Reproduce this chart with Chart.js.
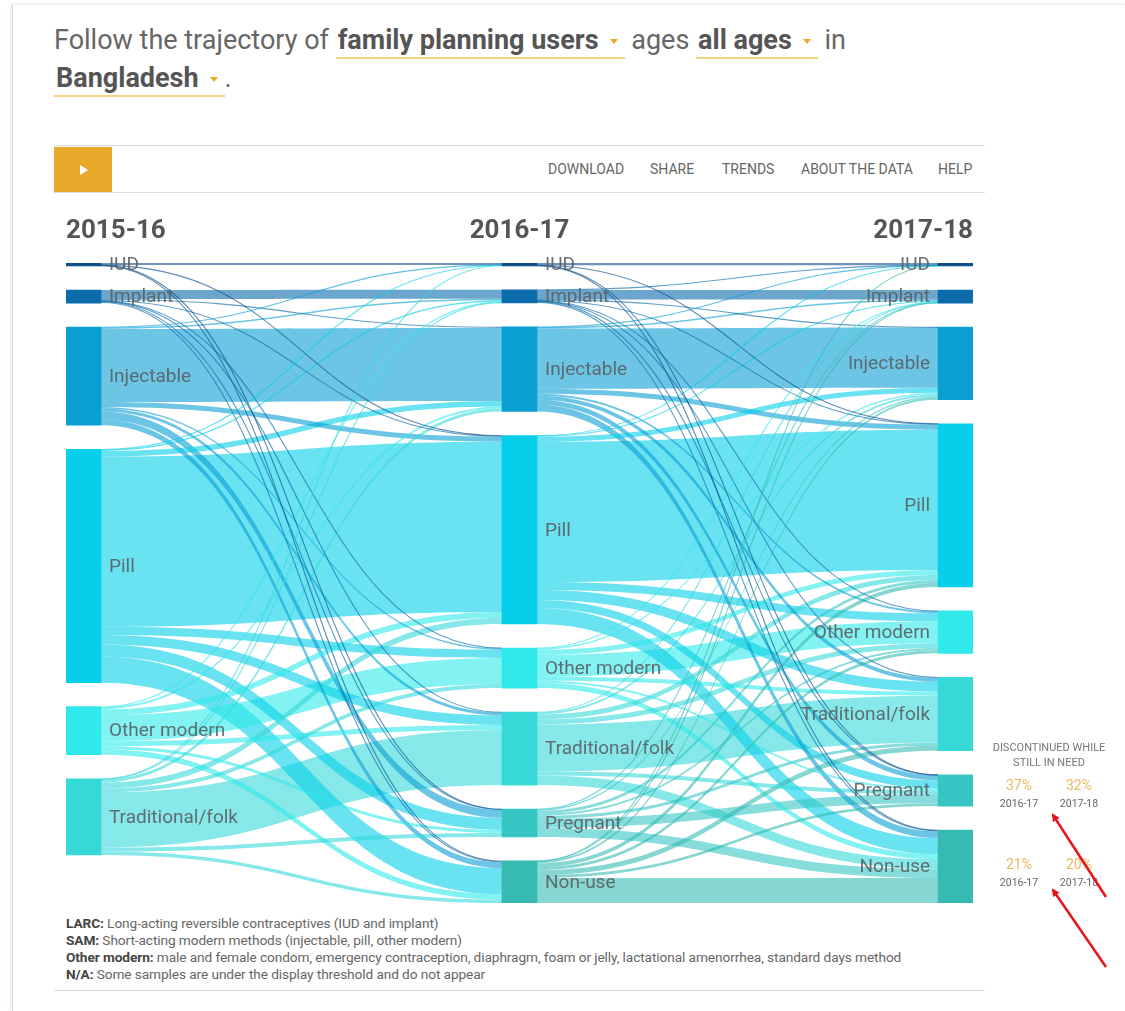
<!DOCTYPE html>
<html>
<head>
<meta charset="utf-8">
<title>Family planning trajectory - Bangladesh</title>
<script src="https://cdn.jsdelivr.net/npm/chart.js@4.4.1/dist/chart.umd.min.js"></script>
<style>
  body { margin: 0; width: 1125px; height: 1011px; background: #fff; font-family: Roboto, "Noto Sans", sans-serif; position: relative; overflow: hidden; }
  .frame { position: absolute; left: 12px; top: 4px; right: 0; bottom: 0; border-left: 1px solid #d8d8d8; border-top: 1px solid #eee; box-shadow: -2px 0 4px rgba(0,0,0,0.08); }
  .title { position: absolute; left: 54px; top: 21px; width: 820px; font-size: 27px; line-height: 38px; color: #666; }
  .sel { font-weight: bold; color: #555; border-bottom: 2px solid #f4d27c; padding: 0 7px 1px 2px; }
  .caret { display: inline-block; width: 0; height: 0; border-left: 4px solid transparent; border-right: 4px solid transparent; border-top: 5px solid #f0a72c; vertical-align: middle; margin-left: 11px; }
  .toolbar { position: absolute; left: 54px; top: 145px; width: 931px; height: 46px; border-top: 1px solid #ddd; border-bottom: 1px solid #ddd; }
  .play { position: absolute; left: 0; top: 1px; width: 58px; height: 45px; background: #e9aa2b; }
  .play:after { content: ""; position: absolute; left: 26px; top: 18px; border-top: 5px solid transparent; border-bottom: 5px solid transparent; border-left: 8px solid #fff; }
  .menu { position: absolute; top: 15px; font-size: 14px; color: #666; white-space: nowrap; }
  .chartbox { position: absolute; left: 48px; top: 195px; width: 943px; height: 715px; }
  .notes { position: absolute; left: 66px; top: 915px; font-size: 13.7px; line-height: 17px; color: #666; white-space: nowrap; letter-spacing: -0.1px; }
  .notes b { color: #444; }
  .rule { position: absolute; left: 54px; top: 990px; width: 931px; border-top: 1px solid #ddd; }
  .disc { position: absolute; left: 985px; top: 740px; width: 128px; text-align: center; font-size: 11px; line-height: 15px; color: #777; }
  .pct { position: absolute; width: 60px; text-align: center; font-size: 14px; color: #ecb75c; }
  .yr { position: absolute; width: 60px; text-align: center; font-size: 10.5px; color: #666; }
  svg.arrows { position: absolute; left: 0; top: 0; pointer-events: none; }
</style>
</head>
<body>
<div class="frame"></div>

<div class="title">Follow the trajectory of <span class="sel">family planning users<span class="caret"></span></span> ages <span class="sel">all ages<span class="caret"></span></span> in<br><span class="sel">Bangladesh<span class="caret"></span></span>.</div>

<div class="toolbar">
  <div class="play"></div>
  <span class="menu" style="left:494px">DOWNLOAD</span>
  <span class="menu" style="left:596px">SHARE</span>
  <span class="menu" style="left:668px">TRENDS</span>
  <span class="menu" style="left:747px">ABOUT THE DATA</span>
  <span class="menu" style="left:884px">HELP</span>
</div>

<div class="chartbox"><canvas id="sankey"></canvas></div>

<div class="notes">
  <b>LARC:</b> Long-acting reversible contraceptives (IUD and implant)<br>
  <b>SAM:</b> Short-acting modern methods (injectable, pill, other modern)<br>
  <b>Other modern:</b> male and female condom, emergency contraception, diaphragm, foam or jelly, lactational amenorrhea, standard days method<br>
  <b>N/A:</b> Some samples are under the display threshold and do not appear
</div>
<div class="rule"></div>

<div class="disc">DISCONTINUED WHILE<br>STILL IN NEED</div>
<div id="discBox"></div>

<svg class="arrows" width="1125" height="1011">
  <defs>
    <marker id="head" markerWidth="8" markerHeight="8" refX="6" refY="4" orient="auto" markerUnits="userSpaceOnUse">
      <path d="M0,0 L8,4 L0,8 z" fill="#e8141c"/>
    </marker>
  </defs>
  <line x1="1106" y1="897" x2="1053" y2="815" stroke="#e8141c" stroke-width="2.5" marker-end="url(#head)"/>
  <line x1="1106" y1="967" x2="1053" y2="890" stroke="#e8141c" stroke-width="2.5" marker-end="url(#head)"/>
</svg>

<script>
const years = ['2015-16', '2016-17', '2017-18'];
const categories = ['IUD', 'Implant', 'Injectable', 'Pill', 'Other modern', 'Traditional/folk', 'Pregnant', 'Non-use'];

// users moving from 2015-16 (rows) to 2016-17 (columns), same order as categories
const flowsFirst = [
  [2,   0,   0,   0.3, 0,   0,   0.2, 0.5],
  [0,   9,   1,   0.8, 0.3, 0.4, 0.5, 1],
  [0.3, 1.5, 73,  5,   1.5, 3,   8,   5.7],
  [0.3, 1.5, 5.5, 170, 8.2, 9.5, 12,  26],
  [0,   0.5, 2,   6,   26,  5,   3,   5.5],
  [0.2, 0.5, 3,   6,   4,   55,  4,   3.3],
  [0,   0,   0,   0,   0,   0,   0,   0],
  [0,   0,   0,   0,   0,   0,   0,   0]
];

// 2016-17 (rows) to 2017-18 (columns)
const flowsSecond = [
  [2.2, 0,   0,   0.2, 0,   0,   0.1, 0.3],
  [0.3, 9.5, 0.5, 0.7, 0.3, 0.3, 0.4, 1],
  [0.2, 1.5, 60,  5,   2,   4,   5,   6.8],
  [0.2, 1,   5,   140, 8,   10,  8,   15.9],
  [0,   0.3, 1.5, 5,   22,  4,   2,   5.2],
  [0,   0.3, 2,   5,   5,   47,  4,   9.6],
  [0,   0.2, 1.5, 3,   2,   3,   9,   9],
  [0.1, 0.2, 2,   4,   3,   5,   2.7, 25]
];

// discontinued while still in need
const discYears = ['2016-17', '2017-18'];
const discFirst = [37, 32];
const discSecond = [21, 20];

const nodeColors = ['#0e4f8b', '#0b6bab', '#0a9fd3', '#05cfea', '#2fe9ea', '#36d9d8', '#35c6c3', '#36bab2'];
const nodeWidth = 35;
const nodeGap = 24;

function rgba(hex, a) {
  const n = parseInt(hex.slice(1), 16);
  return 'rgba(' + (n >> 16) + ',' + ((n >> 8) & 255) + ',' + (n & 255) + ',' + a + ')';
}

const transitions = [flowsFirst, flowsSecond];
const nCol = years.length;

// node sizes = max of what comes in and what goes out
const sizes = [];
for (let c = 0; c < nCol; c++) {
  sizes.push(categories.map((_, k) => {
    const out = c < nCol - 1 ? transitions[c][k].reduce((a, b) => a + b, 0) : 0;
    const inn = c > 0 ? transitions[c - 1].reduce((a, row) => a + row[k], 0) : 0;
    return Math.max(out, inn);
  }));
}
const tops = sizes.map(col => {
  let y = 0;
  return col.map(s => {
    if (s <= 0) return null;
    const t = y;
    y += s + nodeGap;
    return t;
  });
});
let extent = 0;
tops.forEach((col, c) => col.forEach((t, k) => { if (t !== null) extent = Math.max(extent, t + sizes[c][k]); }));

const nodes = [];
tops.forEach((col, c) => col.forEach((t, k) => {
  if (t !== null) nodes.push({ col: c, cat: k, top: t, size: sizes[c][k] });
}));

const sankeyFlows = {
  id: 'sankeyFlows',
  beforeDatasetsDraw(chart) {
    const { ctx, scales: { x, y } } = chart;
    const half = nodeWidth / 2;
    const shapes = [];
    for (let c = 0; c < nCol - 1; c++) {
      const outOff = tops[c].slice();
      const inOff = tops[c + 1].slice();
      const x0 = x.getPixelForValue(c) + half;
      const x1 = x.getPixelForValue(c + 1) - half;
      for (let k = 0; k < categories.length; k++) {
        for (let j = 0; j < categories.length; j++) {
          const f = transitions[c][k][j];
          if (!f) continue;
          shapes.push({
            f, k, x0, x1,
            s0: y.getPixelForValue(outOff[k]), s1: y.getPixelForValue(outOff[k] + f),
            t0: y.getPixelForValue(inOff[j]), t1: y.getPixelForValue(inOff[j] + f)
          });
          outOff[k] += f;
          inOff[j] += f;
        }
      }
    }
    shapes.sort((a, b) => b.f - a.f);
    ctx.save();
    shapes.forEach(s => {
      const xm = (s.x0 + s.x1) / 2;
      if (s.s1 - s.s0 < 1.4) {
        const sm = (s.s0 + s.s1) / 2, tm = (s.t0 + s.t1) / 2;
        ctx.beginPath();
        ctx.moveTo(s.x0, sm);
        ctx.bezierCurveTo(xm, sm, xm, tm, s.x1, tm);
        ctx.lineWidth = 1.1;
        ctx.strokeStyle = rgba(nodeColors[s.k], 0.65);
        ctx.stroke();
      } else {
        ctx.beginPath();
        ctx.moveTo(s.x0, s.s0);
        ctx.bezierCurveTo(xm, s.s0, xm, s.t0, s.x1, s.t0);
        ctx.lineTo(s.x1, s.t1);
        ctx.bezierCurveTo(xm, s.t1, xm, s.s1, s.x0, s.s1);
        ctx.closePath();
        ctx.fillStyle = rgba(nodeColors[s.k], 0.6);
        ctx.fill();
      }
    });
    ctx.restore();
  }
};

const nodeLabels = {
  id: 'nodeLabels',
  afterDatasetsDraw(chart) {
    const { ctx, scales: { x, y } } = chart;
    ctx.save();
    ctx.font = '19px Roboto';
    ctx.fillStyle = 'rgba(90,95,100,0.9)';
    ctx.textBaseline = 'middle';
    nodes.forEach(n => {
      const cy = y.getPixelForValue(n.top + n.size / 2);
      if (n.col < nCol - 1) {
        ctx.textAlign = 'left';
        ctx.fillText(categories[n.cat], x.getPixelForValue(n.col) + nodeWidth / 2 + 8, cy + 1);
      } else {
        ctx.textAlign = 'right';
        ctx.fillText(categories[n.cat], x.getPixelForValue(n.col) - nodeWidth / 2 - 8, cy + 1);
      }
    });
    ctx.restore();
  }
};

new Chart(document.getElementById('sankey'), {
  type: 'bar',
  data: {
    datasets: [{
      data: nodes.map(n => ({ x: n.col, y: [n.top, n.top + n.size] })),
      backgroundColor: nodes.map(n => nodeColors[n.cat]),
      barThickness: nodeWidth,
      borderWidth: 0,
      grouped: false
    }]
  },
  options: {
    responsive: true,
    maintainAspectRatio: false,
    animation: false,
    layout: { padding: { left: 18, right: 18, top: 0, bottom: 7 } },
    plugins: { legend: { display: false }, tooltip: { enabled: false } },
    scales: {
      x: {
        type: 'linear',
        position: 'top',
        min: -0.04,
        max: 2.04,
        offset: false,
        grid: { display: false, drawTicks: false },
        border: { display: false },
        afterBuildTicks: s => {
          s.ticks = years.map((_, i) => ({ value: i === 0 ? s.min : (i === years.length - 1 ? s.max : i) }));
        },
        afterFit: s => { s.height = 68; },
        ticks: {
          align: 'inner',
          padding: 16,
          maxRotation: 0,
          autoSkip: false,
          color: '#555',
          font: { family: 'Roboto', size: 26, weight: 'bold' },
          callback: (v, i) => years[i]
        }
      },
      y: { type: 'linear', reverse: true, min: 0, max: extent, display: false }
    }
  },
  plugins: [sankeyFlows, nodeLabels]
});

// discontinued figures
const box = document.getElementById('discBox');
[[discFirst, 777], [discSecond, 856]].forEach(([vals, top]) => {
  vals.forEach((v, i) => {
    const cx = 1019 + i * 60;
    box.insertAdjacentHTML('beforeend',
      '<div class="pct" style="left:' + (cx - 30) + 'px;top:' + top + 'px">' + v + '%</div>' +
      '<div class="yr" style="left:' + (cx - 30) + 'px;top:' + (top + 20) + 'px">' + discYears[i] + '</div>');
  });
});
</script>
</body>
</html>
